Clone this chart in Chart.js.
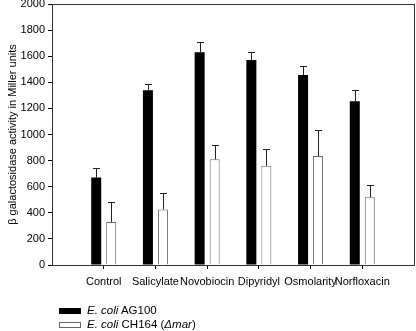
<!DOCTYPE html>
<html>
<head>
<meta charset="utf-8">
<script src="https://cdn.jsdelivr.net/npm/chart.js@4.4.1/dist/chart.umd.min.js"></script>
<style>
  html, body { margin: 0; padding: 0; background: #fff; }
  #wrap { position: relative; width: 416px; height: 331px; overflow: hidden; }
  canvas { position: absolute; left: 0; top: 0; }
  .leg { position: absolute; left: 59px; height: 14px; line-height: 14px; font: 11.5px "Liberation Sans", Arial, sans-serif; color: #000; white-space: nowrap; }
  .leg .sw { position: absolute; left: 0; top: 4px; width: 22px; height: 6px; box-sizing: border-box; }
  .leg .tx { position: absolute; left: 28px; top: 0; }
</style>
</head>
<body>
<div id="wrap">
  <canvas id="c" width="416" height="331"></canvas>
  <div class="leg" style="top:304px;"><span class="sw" style="background:#000;"></span><span class="tx"><i>E. coli</i> AG100</span></div>
  <div class="leg" style="top:318px;"><span class="sw" style="background:#fff;border:1px solid #666;"></span><span class="tx"><i>E. coli</i> CH164 (<i>&Delta;mar</i>)</span></div>
</div>
<script>
const categories = ['Control', 'Salicylate', 'Novobiocin', 'Dipyridyl', 'Osmolarity', 'Norfloxacin'];
const ag100 = [670, 1340, 1630, 1570, 1455, 1255];
const ag100Err = [70, 45, 80, 60, 70, 85];
const ch164 = [330, 425, 810, 760, 835, 520];
const ch164Err = [150, 130, 110, 130, 200, 95];
const yTicks = [0, 200, 400, 600, 800, 1000, 1200, 1400, 1600, 1800, 2000];

const labels = [''].concat(categories, ['']);
const pad = arr => [null].concat(arr, [null]);

const FONT = "'Liberation Sans', Arial, sans-serif";

const errorBars = {
  id: 'errorBars',
  afterDatasetsDraw(chart) {
    const ctx = chart.ctx;
    const y = chart.scales.y;
    chart.data.datasets.forEach((ds, di) => {
      const meta = chart.getDatasetMeta(di);
      meta.data.forEach((bar, i) => {
        const v = ds.data[i];
        const e = ds.errors[i];
        if (v == null || e == null) return;
        const top = Math.round(y.getPixelForValue(v + e)) + 0.5;
        const x = Math.round(bar.x) + 0.5;
        ctx.save();
        ctx.strokeStyle = '#222';
        ctx.lineWidth = 1;
        ctx.beginPath();
        ctx.moveTo(x, bar.y);
        ctx.lineTo(x, top);
        ctx.moveTo(x - 3.5, top);
        ctx.lineTo(x + 3.5, top);
        ctx.stroke();
        ctx.restore();
      });
    });
  }
};

const frame = {
  id: 'frame',
  afterDraw(chart) {
    const a = chart.chartArea;
    const ctx = chart.ctx;
    ctx.save();
    ctx.strokeStyle = '#333';
    ctx.lineWidth = 1;
    ctx.strokeRect(Math.round(a.left) + 0.5, Math.round(a.top) + 0.5, Math.round(a.right - a.left), Math.round(a.bottom - a.top));
    ctx.restore();
  }
};

new Chart(document.getElementById('c'), {
  type: 'bar',
  data: {
    labels: labels,
    datasets: [
      { label: 'E. coli AG100', data: pad(ag100), errors: pad(ag100Err), backgroundColor: '#000', borderColor: '#000', borderWidth: 0 },
      { label: 'E. coli CH164 (Δmar)', data: pad(ch164), errors: pad(ch164Err), backgroundColor: '#fff', borderColor: '#666', borderWidth: 1, borderSkipped: 'bottom' }
    ]
  },
  options: {
    responsive: false,
    animation: false,
    devicePixelRatio: 1,
    categoryPercentage: 0.58,
    barPercentage: 0.667,
    layout: { padding: { top: 4, right: 2, left: 0, bottom: 0 } },
    plugins: { legend: { display: false }, tooltip: { enabled: false } },
    scales: {
      x: {
        offset: false,
        grid: {
          offset: false,
          drawOnChartArea: false,
          drawTicks: true,
          tickLength: 4,
          tickColor: c => (c.index === 0 || c.index === labels.length - 1) ? 'rgba(0,0,0,0)' : '#000'
        },
        border: { display: true, color: '#333' },
        ticks: { color: '#000', font: { family: FONT, size: 11 }, maxRotation: 0, autoSkip: false, padding: 6 },
        afterFit: s => { s.height = 66; s.paddingLeft = 0; s.paddingRight = 0; }
      },
      y: {
        min: 0, max: 2000,
        afterBuildTicks: s => { s.ticks = yTicks.map(v => ({ value: v })); },
        grid: { drawOnChartArea: false, drawTicks: true, tickLength: 4, tickColor: '#000' },
        border: { display: true, color: '#333' },
        ticks: { color: '#000', font: { family: FONT, size: 11 }, padding: 3, callback: v => String(v) },
        title: { display: true, text: 'β galactosidase activity in Miller units', color: '#000', font: { family: FONT, size: 11 }, padding: { top: 6.5, bottom: 0 } },
        afterFit: s => { s.width = 52; s.paddingTop = 0; s.paddingBottom = 0; }
      }
    }
  },
  plugins: [errorBars, frame]
});
</script>
</body>
</html>
